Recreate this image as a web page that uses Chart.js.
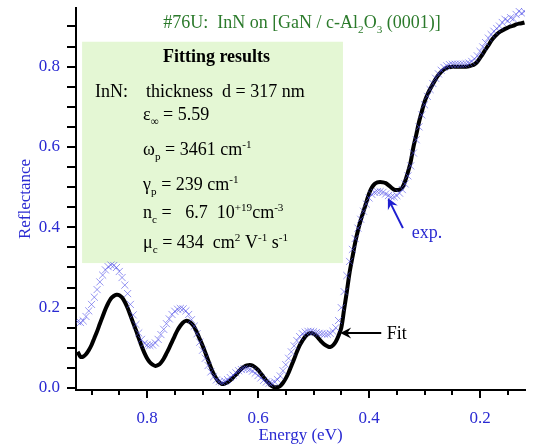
<!DOCTYPE html>
<html>
<head>
<meta charset="utf-8">
<script src="https://cdn.jsdelivr.net/npm/chart.js@4.4.0/dist/chart.umd.min.js"></script>
<style>
  html, body { margin: 0; padding: 0; background: #fff; }
  #wrap { width: 536px; height: 447px; }
</style>
</head>
<body>
<div id="wrap"><canvas id="chart" width="536" height="447"></canvas></div>
<script>
// energy grid (eV): 0.925 down to 0.120, step 0.005
const energyStart = 0.925;
const energyStep = 0.005;

// black fit curve
const fitValues = [
    0.090, 0.078, 0.078, 0.084, 0.094, 0.107, 0.124, 0.141, 0.160, 0.178,
    0.196, 0.211, 0.223, 0.229, 0.232, 0.231, 0.225, 0.214, 0.199, 0.181,
    0.162, 0.144, 0.124, 0.105, 0.088, 0.074, 0.064, 0.058, 0.055, 0.057,
    0.063, 0.073, 0.086, 0.100, 0.115, 0.130, 0.144, 0.155, 0.163, 0.167,
    0.166, 0.161, 0.152, 0.138, 0.122, 0.106, 0.088, 0.069, 0.051, 0.035,
    0.023, 0.014, 0.010, 0.011, 0.014, 0.019, 0.026, 0.033, 0.041, 0.048,
    0.053, 0.056, 0.057, 0.056, 0.051, 0.045, 0.036, 0.027, 0.018, 0.011,
    0.005, 0.002, 0.002, 0.005, 0.013, 0.024, 0.038, 0.055, 0.072, 0.090,
    0.106, 0.118, 0.128, 0.134, 0.137, 0.135, 0.130, 0.122, 0.114, 0.108,
    0.104, 0.102, 0.106, 0.115, 0.130, 0.150, 0.195, 0.240, 0.288, 0.325,
    0.362, 0.392, 0.418, 0.440, 0.462, 0.484, 0.499, 0.508, 0.512, 0.513,
    0.512, 0.510, 0.505, 0.499, 0.494, 0.493, 0.494, 0.499, 0.515, 0.537,
    0.563, 0.600, 0.630, 0.662, 0.688, 0.712, 0.730, 0.744, 0.757, 0.769,
    0.779, 0.787, 0.793, 0.797, 0.799, 0.800, 0.800, 0.800, 0.800, 0.800,
    0.800, 0.801, 0.803, 0.806, 0.812, 0.822, 0.832, 0.843, 0.853, 0.864,
    0.873, 0.880, 0.886, 0.890, 0.894, 0.897, 0.900, 0.902, 0.905, 0.907,
    0.908, 0.910
];

// measured reflectance (x markers)
const expValues = [
    0.165, 0.163, 0.167, 0.178, 0.192, 0.208, 0.226, 0.245, 0.264, 0.281,
    0.294, 0.302, 0.306, 0.305, 0.300, 0.290, 0.275, 0.256, 0.235, 0.208,
    0.182, 0.158, 0.137, 0.121, 0.111, 0.107, 0.106, 0.107, 0.112, 0.121,
    0.133, 0.146, 0.160, 0.172, 0.183, 0.191, 0.196, 0.198, 0.197, 0.192,
    0.183, 0.170, 0.154, 0.135, 0.114, 0.094, 0.074, 0.056, 0.040, 0.028,
    0.020, 0.016, 0.015, 0.017, 0.021, 0.026, 0.032, 0.038, 0.043, 0.046,
    0.048, 0.048, 0.046, 0.042, 0.037, 0.031, 0.025, 0.019, 0.015, 0.012,
    0.012, 0.015, 0.021, 0.030, 0.043, 0.058, 0.074, 0.090, 0.105, 0.118,
    0.128, 0.135, 0.139, 0.141, 0.141, 0.140, 0.138, 0.136, 0.135, 0.134,
    0.134, 0.136, 0.141, 0.150, 0.168, 0.200, 0.240, 0.280, 0.315, 0.345,
    0.372, 0.398, 0.420, 0.440, 0.458, 0.473, 0.482, 0.487, 0.489, 0.489,
    0.487, 0.483, 0.479, 0.476, 0.476, 0.479, 0.485, 0.494, 0.508, 0.528,
    0.553, 0.585, 0.618, 0.650, 0.680, 0.705, 0.726, 0.743, 0.758, 0.771,
    0.782, 0.791, 0.798, 0.802, 0.805, 0.806, 0.806, 0.806, 0.806, 0.806,
    0.807, 0.809, 0.813, 0.819, 0.827, 0.838, 0.849, 0.860, 0.871, 0.880,
    0.888, 0.895, 0.901, 0.910, 0.918, 0.914, 0.922, 0.919, 0.930, 0.938,
    0.933, 0.937
];

const xTicks = [0.15, 0.2, 0.25, 0.3, 0.35, 0.4, 0.45, 0.5, 0.55, 0.6, 0.65, 0.7, 0.75, 0.8, 0.85, 0.9];
const xLabelled = [0.2, 0.4, 0.6, 0.8];
const yTicks = [0, 0.05, 0.1, 0.15, 0.2, 0.25, 0.3, 0.35, 0.4, 0.45, 0.5, 0.55, 0.6, 0.65, 0.7, 0.75, 0.8, 0.85, 0.9];
const yLabelled = [0, 0.2, 0.4, 0.6, 0.8];

const energies = fitValues.map((v, i) => +(energyStart - i * energyStep).toFixed(3));

const SERIF = '"Liberation Serif", "Times New Roman", serif';
const BLUE = '#2a2ad2';
const GREEN = '#2b7a2b';

// results box, in data units (energy, reflectance)
const resultsBox = { eLeft: 0.917, eRight: 0.447, rTop: 0.862, rBottom: 0.311 };

// text with sub/superscripts, parts = [text, mode]
function drawRich(ctx, x, y, parts, size, color, bold) {
    ctx.fillStyle = color;
    ctx.textBaseline = 'alphabetic';
    ctx.textAlign = 'left';
    parts.forEach(([text, mode]) => {
        const s = mode ? size * 0.62 : size;
        ctx.font = `${bold ? 'bold ' : ''}${s}px ${SERIF}`;
        const dy = mode === 'sub' ? size * 0.28 : mode === 'sup' ? -size * 0.38 : 0;
        ctx.fillText(text, x, y + dy);
        x += ctx.measureText(text).width;
    });
    return x;
}

function drawArrow(ctx, x1, y1, x2, y2, color) {
    const ang = Math.atan2(y2 - y1, x2 - x1);
    const len = 11, wing = 5.5;
    ctx.save();
    ctx.strokeStyle = color;
    ctx.fillStyle = color;
    ctx.lineWidth = 2;
    ctx.beginPath();
    ctx.moveTo(x1, y1);
    ctx.lineTo(x2 - Math.cos(ang) * 4, y2 - Math.sin(ang) * 4);
    ctx.stroke();
    ctx.translate(x2, y2);
    ctx.rotate(ang);
    ctx.beginPath();
    ctx.moveTo(0, 0);
    ctx.lineTo(-len, -wing);
    ctx.lineTo(-len * 0.65, 0);
    ctx.lineTo(-len, wing);
    ctx.closePath();
    ctx.fill();
    ctx.restore();
}

const annotations = {
    id: 'annotations',
    beforeDatasetsDraw(chart) {
        const { ctx, scales: { x, y } } = chart;
        const left = x.getPixelForValue(resultsBox.eLeft);
        const right = x.getPixelForValue(resultsBox.eRight);
        const top = y.getPixelForValue(resultsBox.rTop);
        const bottom = y.getPixelForValue(resultsBox.rBottom);
        ctx.save();
        ctx.fillStyle = '#e4f7d4';
        ctx.fillRect(left, top, right - left, bottom - top);

        ctx.font = `bold 18px ${SERIF}`;
        ctx.fillStyle = '#000';
        ctx.textAlign = 'center';
        ctx.textBaseline = 'alphabetic';
        ctx.fillText('Fitting results', (left + right) / 2 + 4, top + 20);

        drawRich(ctx, left + 13, top + 55, [['InN:']], 18, '#000');
        drawRich(ctx, left + 64, top + 55, [['thickness  d = 317 nm']], 18, '#000');
        drawRich(ctx, left + 61, top + 78, [['\u03b5'], ['\u221e', 'sub'], [' = 5.59']], 18, '#000');
        drawRich(ctx, left + 61, top + 113, [['\u03c9'], ['p', 'sub'], [' = 3461 cm'], ['-1', 'sup']], 18, '#000');
        drawRich(ctx, left + 61, top + 148, [['\u03b3'], ['p', 'sub'], [' = 239 cm'], ['-1', 'sup']], 18, '#000');
        drawRich(ctx, left + 61, top + 176, [['n'], ['c', 'sub'], [' =   6.7  10'], ['+19', 'sup'], ['cm'], ['-3', 'sup']], 18, '#000');
        drawRich(ctx, left + 61, top + 206, [['\u03bc'], ['c', 'sub'], [' = 434  cm'], ['2', 'sup'], [' V'], ['-1', 'sup'], [' s'], ['-1', 'sup']], 18, '#000');
        ctx.restore();
    },
    afterDatasetsDraw(chart) {
        const { ctx, scales: { x, y } } = chart;
        ctx.save();
        // heading
        drawRich(ctx, x.getPixelForValue(0.771), y.getPixelForValue(0.897),
            [['#76U:  InN on [GaN / c-Al'], ['2', 'sub'], ['O'], ['3', 'sub'], [' (0001)]']], 18, GREEN);

        // exp. arrow + label
        drawArrow(ctx, x.getPixelForValue(0.339), y.getPixelForValue(0.398),
            x.getPixelForValue(0.366), y.getPixelForValue(0.473), '#1f1fd0');
        drawRich(ctx, x.getPixelForValue(0.323), y.getPixelForValue(0.374), [['exp.']], 18, BLUE);

        // Fit arrow + label
        drawArrow(ctx, x.getPixelForValue(0.378), y.getPixelForValue(0.137),
            x.getPixelForValue(0.452), y.getPixelForValue(0.137), '#000');
        drawRich(ctx, x.getPixelForValue(0.368), y.getPixelForValue(0.122), [['Fit']], 18, '#000');

        // tick marks
        ctx.strokeStyle = '#000';
        ctx.lineWidth = 2;
        ctx.beginPath();
        xTicks.forEach(v => {
            const px = Math.round(x.getPixelForValue(v));
            const len = xLabelled.includes(v) ? 8 : 5;
            ctx.moveTo(px, x.top);
            ctx.lineTo(px, x.top + len);
        });
        yTicks.forEach(v => {
            const py = Math.round(y.getPixelForValue(v));
            ctx.moveTo(y.right, py);
            ctx.lineTo(y.right - 9, py);
        });
        ctx.stroke();
        ctx.restore();
    }
};

new Chart(document.getElementById('chart'), {
    type: 'line',
    data: {
        datasets: [
            {
                label: 'exp.',
                data: energies.map((e, i) => ({ x: e, y: expValues[i] })),
                showLine: false,
                pointStyle: 'crossRot',
                pointRadius: 5,
                pointBorderWidth: 1,
                pointBorderColor: 'rgba(80, 80, 232, 0.6)',
                pointBackgroundColor: 'rgba(80, 80, 232, 0.6)',
                order: 0
            },
            {
                label: 'Fit',
                data: energies.map((e, i) => ({ x: e, y: fitValues[i] })),
                borderColor: '#000',
                borderWidth: 4,
                pointRadius: 0,
                tension: 0.3,
                fill: false,
                order: 1
            }
        ]
    },
    options: {
        responsive: false,
        animation: false,
        layout: { padding: { top: 8, right: 11, left: 0, bottom: 0 } },
        plugins: {
            legend: { display: false },
            tooltip: { enabled: false }
        },
        scales: {
            x: {
                type: 'linear',
                reverse: true,
                min: 0.119,
                max: 0.928,
                afterFit: scale => {
                    scale.height = 57;
                    scale.paddingLeft = 0;
                    scale.paddingRight = 0;
                },
                afterBuildTicks: scale => { scale.ticks = xTicks.map(v => ({ value: v })); },
                grid: { display: false, tickLength: 8 },
                border: { display: true, color: '#000', width: 2 },
                ticks: {
                    autoSkip: false,
                    maxRotation: 0,
                    padding: 10,
                    color: BLUE,
                    font: { family: SERIF, size: 17 },
                    callback: v => xLabelled.includes(v) ? v.toFixed(1) : ''
                },
                title: {
                    display: true,
                    text: 'Energy (eV)',
                    color: BLUE,
                    font: { family: SERIF, size: 17 },
                    padding: { top: 0, bottom: 1 }
                }
            },
            y: {
                type: 'linear',
                min: -0.005,
                max: 0.946,
                afterFit: scale => {
                    scale.width = 76;
                    scale.paddingTop = 0;
                    scale.paddingBottom = 0;
                },
                afterBuildTicks: scale => { scale.ticks = yTicks.map(v => ({ value: v })); },
                grid: { display: false, tickLength: 9 },
                border: { display: true, color: '#000', width: 2 },
                ticks: {
                    autoSkip: false,
                    padding: 7,
                    color: BLUE,
                    font: { family: SERIF, size: 17 },
                    callback: v => yLabelled.includes(v) ? v.toFixed(1) : ''
                },
                title: {
                    display: true,
                    text: 'Reflectance',
                    color: BLUE,
                    font: { family: SERIF, size: 17 },
                    padding: { top: 15, bottom: 0 }
                }
            }
        }
    },
    plugins: [annotations]
});
</script>
</body>
</html>
